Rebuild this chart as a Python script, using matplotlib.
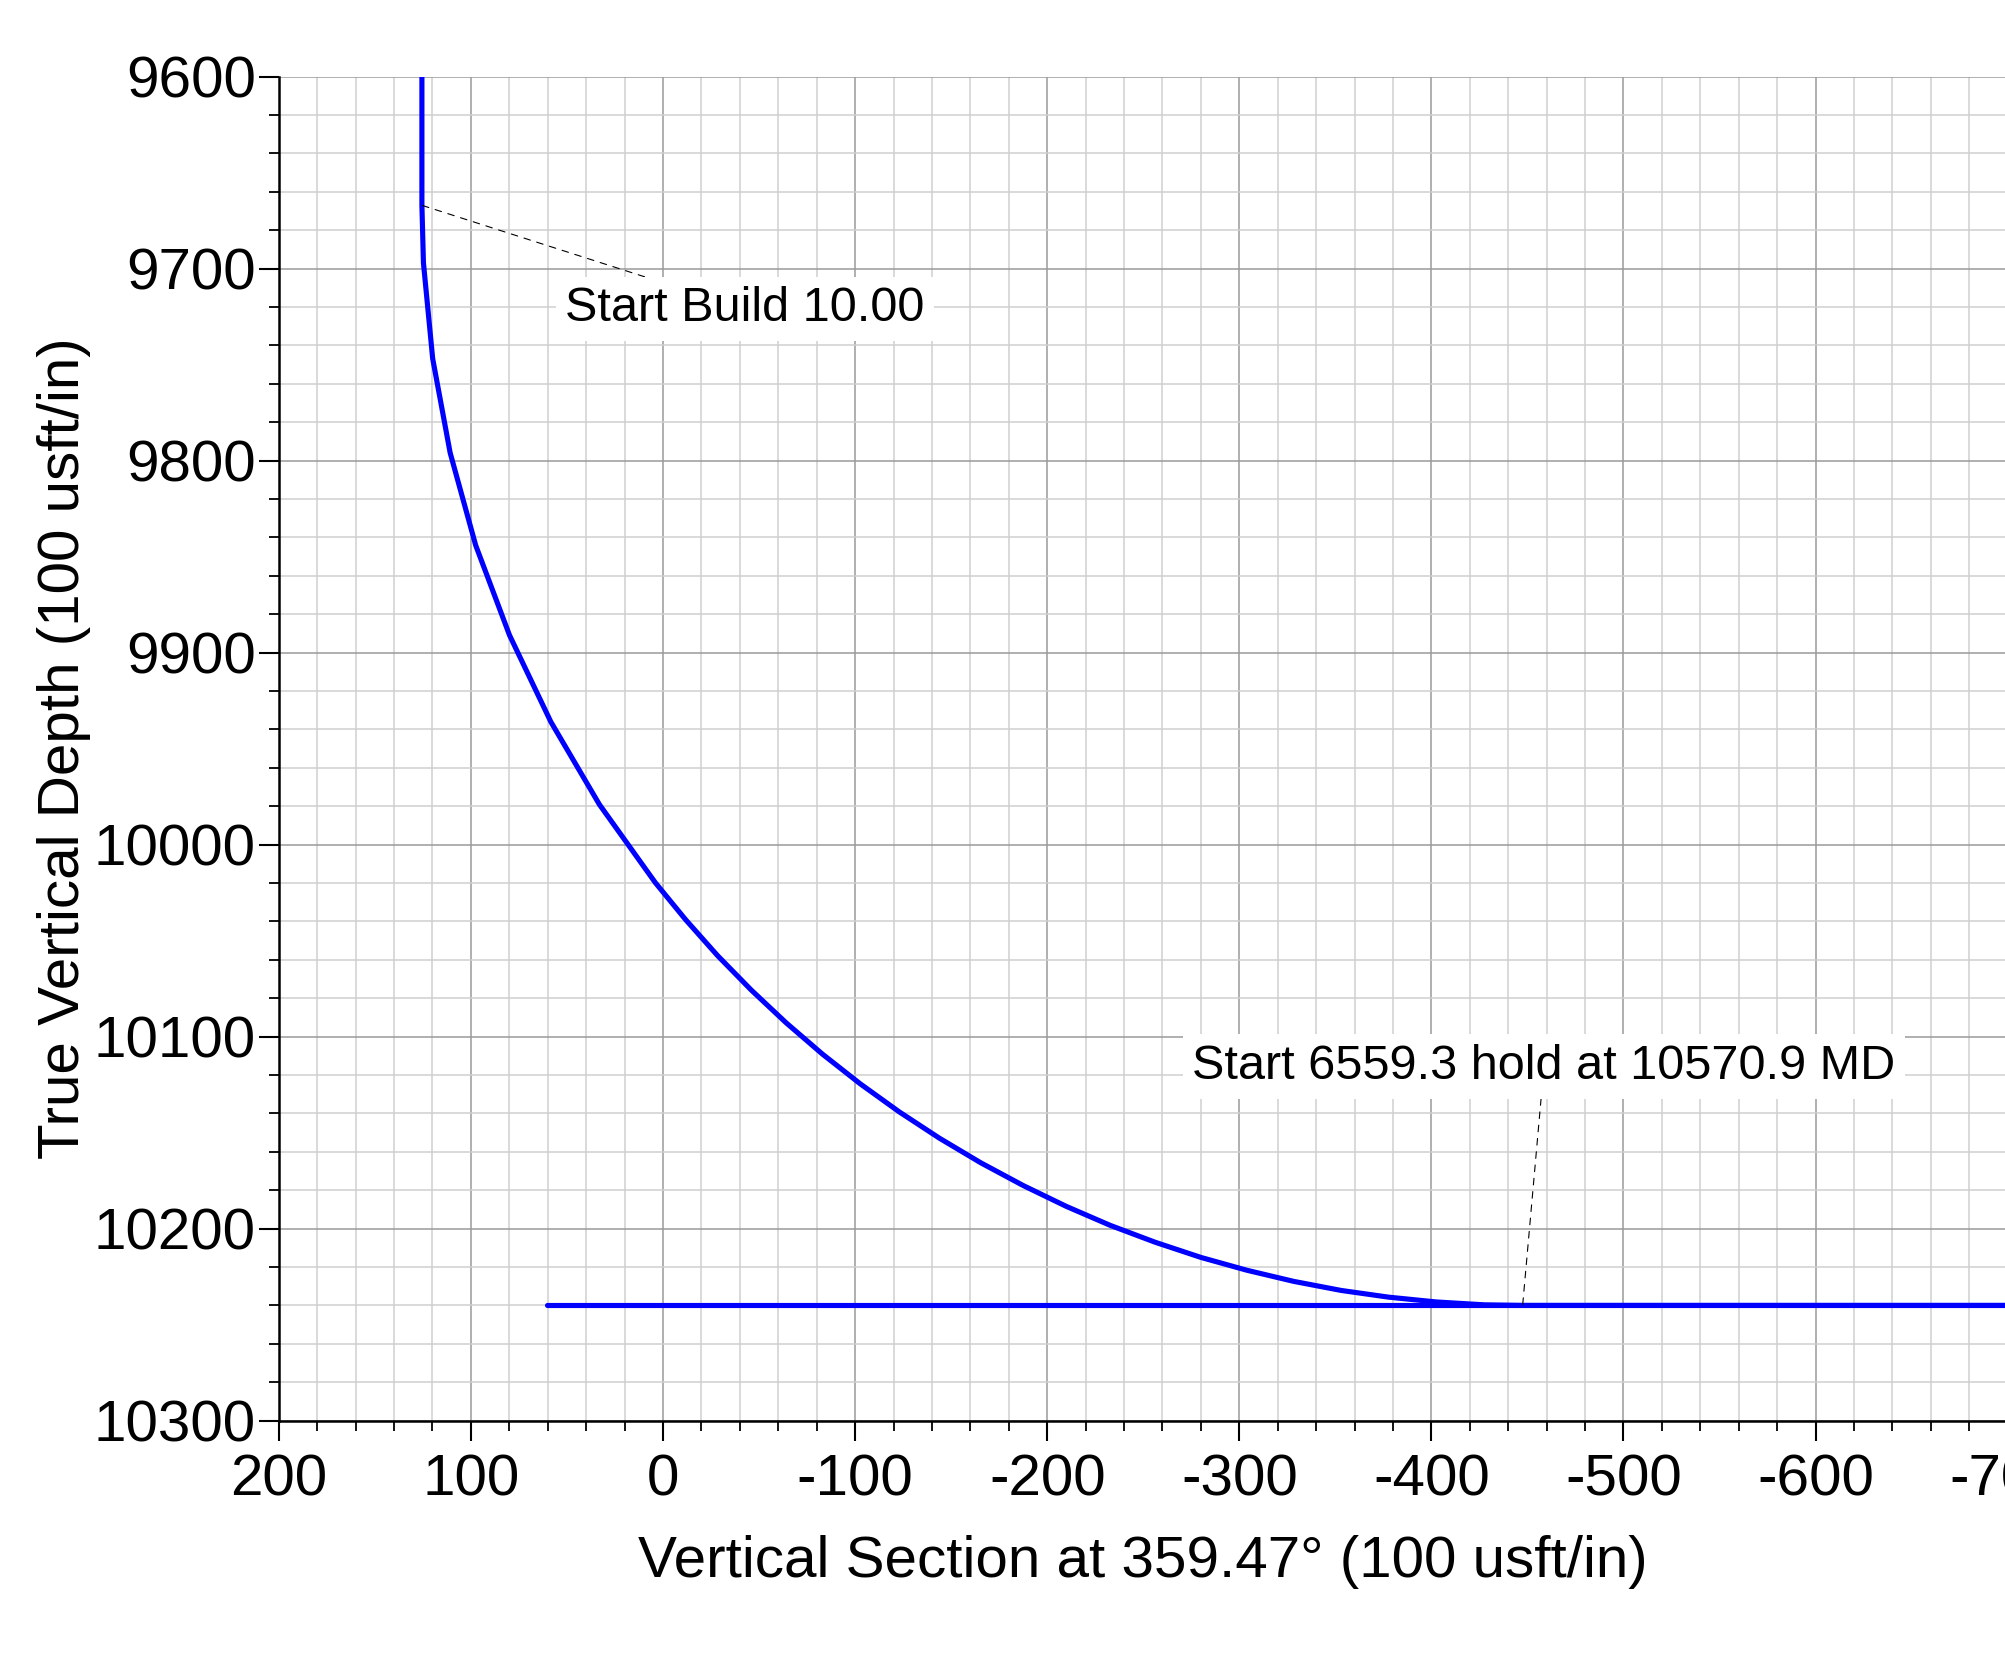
import matplotlib
matplotlib.use("Agg")
import matplotlib.pyplot as plt
from matplotlib.ticker import MultipleLocator

plt.rcParams['font.family'] = ['Liberation Sans', 'DejaVu Sans']
plt.rcParams['axes.unicode_minus'] = False

# Well path (vertical section vs TVD)
vs_path = [125.5, 125.5, 124.7, 119.9, 110.8, 97.5, 79.9, 58.4, 33.1, 4.0,
           -11.8, -28.4, -45.9, -64.1, -83.0, -102.7, -123.0, -143.9, -165.4,
           -187.4, -209.9, -232.8, -256.2, -280.0, -304.0, -328.4, -353.0,
           -377.7, -402.5, -427.5, -447.5, -760.0]
tvd_path = [9600, 9667, 9697.0, 9746.8, 9795.9, 9844.1, 9890.9, 9936.0, 9979.1,
            10019.8, 10039.1, 10057.8, 10075.7, 10092.8, 10109.1, 10124.6,
            10139.2, 10152.9, 10165.7, 10177.5, 10188.4, 10198.3, 10207.1,
            10215.0, 10221.7, 10227.5, 10232.2, 10235.7, 10238.2, 10239.7,
            10240, 10240]

# Second horizontal line
vs_lat = [60.4, -760.0]
tvd_lat = [10240, 10240]

# Annotations
ann_texts = ["Start Build 10.00", "Start 6559.3 hold at 10570.9 MD"]
ann_points = [(125.5, 9667), (-447.5, 10240)]
ann_text_pos = [(-42.7, 9721.0), (-458.6, 10115.5)]

x_ticks = list(range(200, -701, -100))
y_ticks = list(range(9600, 10301, 100))

fig = plt.figure(figsize=(20.05, 16.6), dpi=100)
ax = fig.add_axes([0.13905, 0.14422, 0.86229, 0.80958])

ax.plot(vs_path, tvd_path, color='#0000ff', lw=3.7, solid_capstyle='round',
        solid_joinstyle='round', zorder=2.5)
ax.plot(vs_lat, tvd_lat, color='#0000ff', lw=3.7, solid_capstyle='round', zorder=2.5)

ax.set_xlim(200, -700)
ax.set_ylim(10300, 9600)

ax.xaxis.set_minor_locator(MultipleLocator(20))
ax.yaxis.set_minor_locator(MultipleLocator(20))
ax.set_xticks(x_ticks)
ax.set_xticklabels([str(v) for v in x_ticks])
ax.set_yticks(y_ticks)
ax.set_yticklabels([str(v) for v in y_ticks])

ax.set_axisbelow(True)
ax.grid(which='major', color='#9a9a9a', lw=1.1)
ax.grid(which='minor', color='#cfcfcf', lw=1.1)

for s in ['top', 'right']:
    ax.spines[s].set_visible(False)
for s in ['left', 'bottom']:
    ax.spines[s].set_linewidth(1.8)
    ax.spines[s].set_color('black')

ax.tick_params(which='major', direction='out', length=14.5, width=1.5,
               labelsize=42, colors='black')
ax.tick_params(axis='x', which='major', pad=9)
ax.tick_params(axis='y', which='major', pad=2)
ax.tick_params(which='minor', direction='out', length=7.2, width=1.3)

ax.set_xlabel("Vertical Section at 359.47° (100 usft/in)", fontsize=42, labelpad=20)
ax.set_ylabel("True Vertical Depth (100 usft/in)", fontsize=42, labelpad=2)

for txt, pt, tp in zip(ann_texts, ann_points, ann_text_pos):
    ax.annotate(txt, xy=pt, xytext=tp, fontsize=35, ha='center', va='center',
                bbox=dict(boxstyle='square,pad=0.2', fc='white', ec='none'),
                arrowprops=dict(arrowstyle='-', color='black', lw=0.8,
                                linestyle=(0, (6, 6)), shrinkA=0, shrinkB=0),
                zorder=4)

fig.savefig("out.png", dpi=100)
